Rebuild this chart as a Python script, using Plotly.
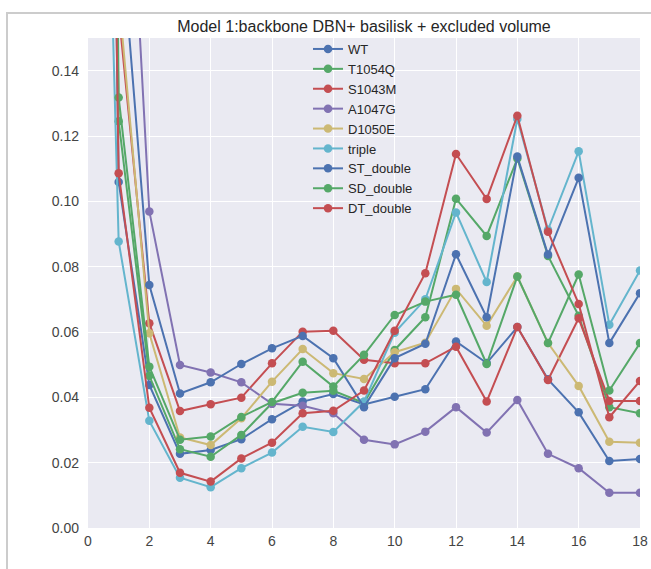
import plotly.graph_objects as go

x_vals = list(range(0, 19))

wt =        [0.80, 0.1059, 0.0438, 0.0227, 0.0239, 0.0272, 0.0333, 0.0387, 0.0410, 0.0378, 0.0402, 0.0425, 0.0571, 0.0505, 0.0615, 0.0455, 0.0354, 0.0205, 0.0211]
t1054q =    [0.90, 0.1245, 0.0466, 0.0241, 0.0218, 0.0285, 0.0382, 0.0414, 0.0420, 0.0383, 0.0545, 0.0645, 0.1008, 0.0894, 0.1131, 0.0833, 0.0650, 0.0370, 0.0351]
s1043m =    [0.60, 0.158, 0.0627, 0.0358, 0.0379, 0.0399, 0.0504, 0.0601, 0.0604, 0.0515, 0.0504, 0.0504, 0.0555, 0.0387, 0.0615, 0.0453, 0.0642, 0.0389, 0.0389]
a1047g =    [0.90, 0.271, 0.0969, 0.0499, 0.0476, 0.0446, 0.0380, 0.0374, 0.0351, 0.0270, 0.0256, 0.0295, 0.0370, 0.0292, 0.0392, 0.0227, 0.0183, 0.0108, 0.0108]
d1050e =    [0.70, 0.163, 0.0596, 0.0277, 0.0254, 0.0336, 0.0448, 0.0548, 0.0474, 0.0456, 0.0538, 0.0567, 0.0732, 0.0619, 0.0770, 0.0566, 0.0435, 0.0264, 0.0261]
triple =    [0.434, 0.0877, 0.0328, 0.0154, 0.0125, 0.0183, 0.0231, 0.0310, 0.0294, 0.0387, 0.0598, 0.0700, 0.0966, 0.0753, 0.1252, 0.0913, 0.1153, 0.0622, 0.0788]
st_double = [0.50, 0.191, 0.0744, 0.0412, 0.0446, 0.0502, 0.0550, 0.0588, 0.0520, 0.0370, 0.0520, 0.0564, 0.0838, 0.0645, 0.1137, 0.0837, 0.1072, 0.0566, 0.0719]
sd_double = [1.00, 0.1318, 0.0494, 0.0270, 0.0280, 0.0340, 0.0386, 0.0509, 0.0433, 0.0530, 0.0652, 0.0693, 0.0714, 0.0502, 0.0770, 0.0566, 0.0776, 0.0421, 0.0566]
dt_double = [0.755, 0.1086, 0.0368, 0.0169, 0.0142, 0.0213, 0.0261, 0.0351, 0.0359, 0.0421, 0.0604, 0.0780, 0.1145, 0.1007, 0.1262, 0.0907, 0.0686, 0.0339, 0.0450]

series_names = ["WT", "T1054Q", "S1043M", "A1047G", "D1050E", "triple", "ST_double", "SD_double", "DT_double"]
series_values = [wt, t1054q, s1043m, a1047g, d1050e, triple, st_double, sd_double, dt_double]
palette = ["#4C72B0", "#55A868", "#C44E52", "#8172B2", "#CCB974", "#64B5CD"]

x_ticks = [0, 2, 4, 6, 8, 10, 12, 14, 16, 18]
y_ticks = [0.00, 0.02, 0.04, 0.06, 0.08, 0.10, 0.12, 0.14]

fig = go.Figure()
for i, (name, vals) in enumerate(zip(series_names, series_values)):
    c = palette[i % len(palette)]
    fig.add_trace(go.Scatter(
        x=x_vals, y=vals, name=name, mode="lines+markers",
        line=dict(color=c, width=2),
        marker=dict(color=c, size=8.5),
    ))

W, H = 651, 569
L, R, T, B = 88, 11, 38, 41
pw, ph = W - L - R, H - T - B

def px_to_paper_x(px):
    return (px - L) / pw

def py_to_paper_y(py):
    return (H - B - py) / ph

fig.update_layout(
    template="none",
    width=W, height=H,
    margin=dict(l=L, r=R, t=T, b=B, pad=0, autoexpand=False),
    paper_bgcolor="white",
    plot_bgcolor="#EAEAF2",
    font=dict(family="Arial, Liberation Sans, sans-serif", color="#262626", size=13),
    title=dict(text="Model 1:backbone DBN+ basilisk + excluded volume",
               x=(L + pw / 2) / W, xanchor="center", y=1 - 26 / H, yanchor="middle",
               font=dict(size=16, color="#262626")),
    xaxis=dict(range=[0, 18], tickvals=x_ticks, showgrid=True, gridcolor="white", gridwidth=1.3,
               zeroline=False, showline=False, ticks="", automargin=False,
               tickfont=dict(size=14, color="#444"), ticklabelstandoff=3),
    yaxis=dict(range=[0, 0.15], tickvals=y_ticks, tickformat=".2f", showgrid=True, gridcolor="white",
               gridwidth=1.3, zeroline=False, showline=False, ticks="", automargin=False,
               tickfont=dict(size=14, color="#444"), ticklabelstandoff=8),
    legend=dict(x=px_to_paper_x(308), xanchor="left", y=py_to_paper_y(34), yanchor="top",
                bgcolor="rgba(0,0,0,0)", font=dict(size=13, color="#262626"),
                itemwidth=30, borderwidth=0),
    showlegend=True,
)

# light grey frame around the figure (as in the reference screenshot)
fig.add_shape(type="rect", xref="paper", yref="paper",
              x0=px_to_paper_x(7), y0=py_to_paper_y(600), x1=px_to_paper_x(700), y1=py_to_paper_y(13),
              line=dict(color="#CCCCCC", width=2), fillcolor="rgba(0,0,0,0)", layer="below")

fig.write_html("out.html")
